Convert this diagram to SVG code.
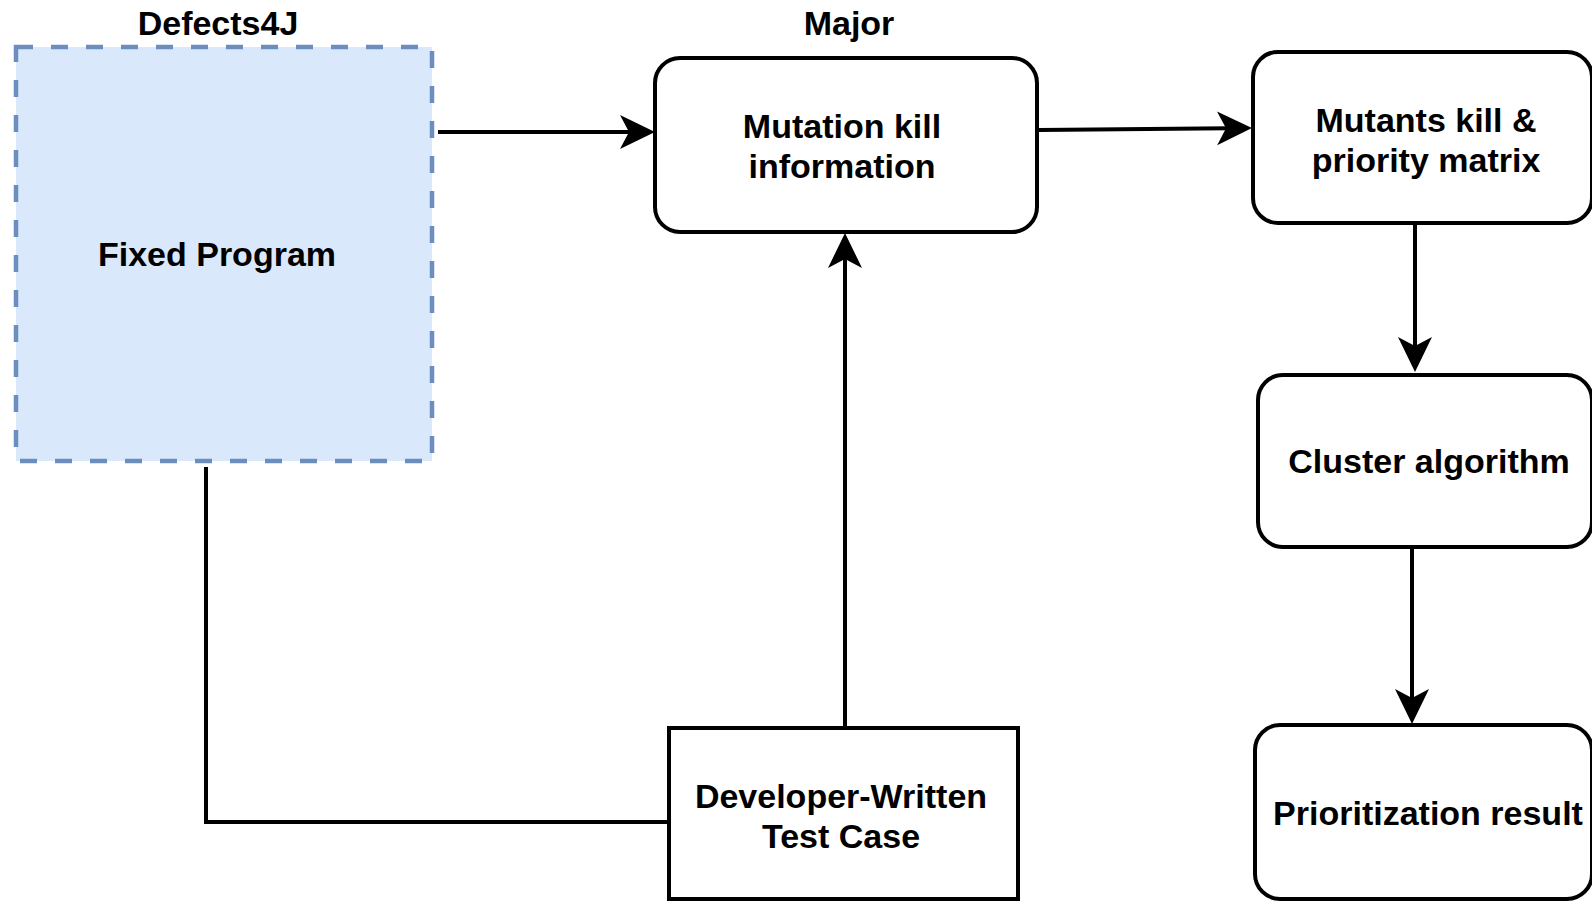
<svg xmlns="http://www.w3.org/2000/svg" width="1592" height="902" viewBox="0 0 1592 902">
  <style>
    .lbl { font-family: "Liberation Sans", Arial, sans-serif; font-weight: bold; font-size: 34px; fill: #000; text-anchor: middle; }
    .box { fill: #fff; stroke: #000; stroke-width: 4; }
    .edge { fill: none; stroke: #000; stroke-width: 4; }
  </style>
  <defs>
    <marker id="arrow" markerUnits="userSpaceOnUse" markerWidth="36" markerHeight="36" refX="12" refY="17" orient="auto" viewBox="0 0 36 34">
      <path d="M0,0 L35,17 L0,34 L9,17 Z" fill="#000"/>
    </marker>
  </defs>
  <rect width="1592" height="902" fill="#fff"/>

  <g id="fixed-program">
    <rect x="16" y="47" width="416" height="414" fill="#dae8fc" stroke="#6c8ebf" stroke-width="4.5" stroke-dasharray="17 18"/>
    <text class="lbl" x="218" y="35">Defects4J</text>
    <text class="lbl" x="217" y="266">Fixed Program</text>
  </g>

  <g id="mutation-kill">
    <rect class="box" x="655" y="58" width="382" height="174" rx="25"/>
    <text class="lbl" x="849" y="35">Major</text>
    <text class="lbl" x="842" y="138">Mutation kill</text>
    <text class="lbl" x="842" y="178">information</text>
  </g>

  <g id="mutants-matrix">
    <rect class="box" x="1253" y="52" width="339" height="171" rx="25"/>
    <text class="lbl" x="1426" y="132">Mutants kill &amp;</text>
    <text class="lbl" x="1426" y="172">priority matrix</text>
  </g>

  <g id="cluster-algorithm">
    <rect class="box" x="1258" y="375" width="334" height="172" rx="25"/>
    <text class="lbl" x="1429" y="473">Cluster algorithm</text>
  </g>

  <g id="prioritization-result">
    <rect class="box" x="1255" y="725" width="337" height="174" rx="25"/>
    <text class="lbl" x="1428" y="825">Prioritization result</text>
  </g>

  <g id="developer-test">
    <rect class="box" x="669" y="728" width="349" height="171"/>
    <text class="lbl" x="841" y="808">Developer-Written</text>
    <text class="lbl" x="841" y="848">Test Case</text>
  </g>

  <g id="connectors">
    <line class="edge" x1="438" y1="132" x2="632" y2="132" marker-end="url(#arrow)"/>
    <line class="edge" x1="1039" y1="130" x2="1229" y2="128.2" marker-end="url(#arrow)"/>
    <line class="edge" x1="845" y1="727" x2="845" y2="256" marker-end="url(#arrow)"/>
    <line class="edge" x1="1415" y1="224" x2="1415" y2="349" marker-end="url(#arrow)"/>
    <line class="edge" x1="1412" y1="549" x2="1412" y2="701" marker-end="url(#arrow)"/>
    <polyline class="edge" points="206,467 206,822 669,822"/>
  </g>
</svg>
